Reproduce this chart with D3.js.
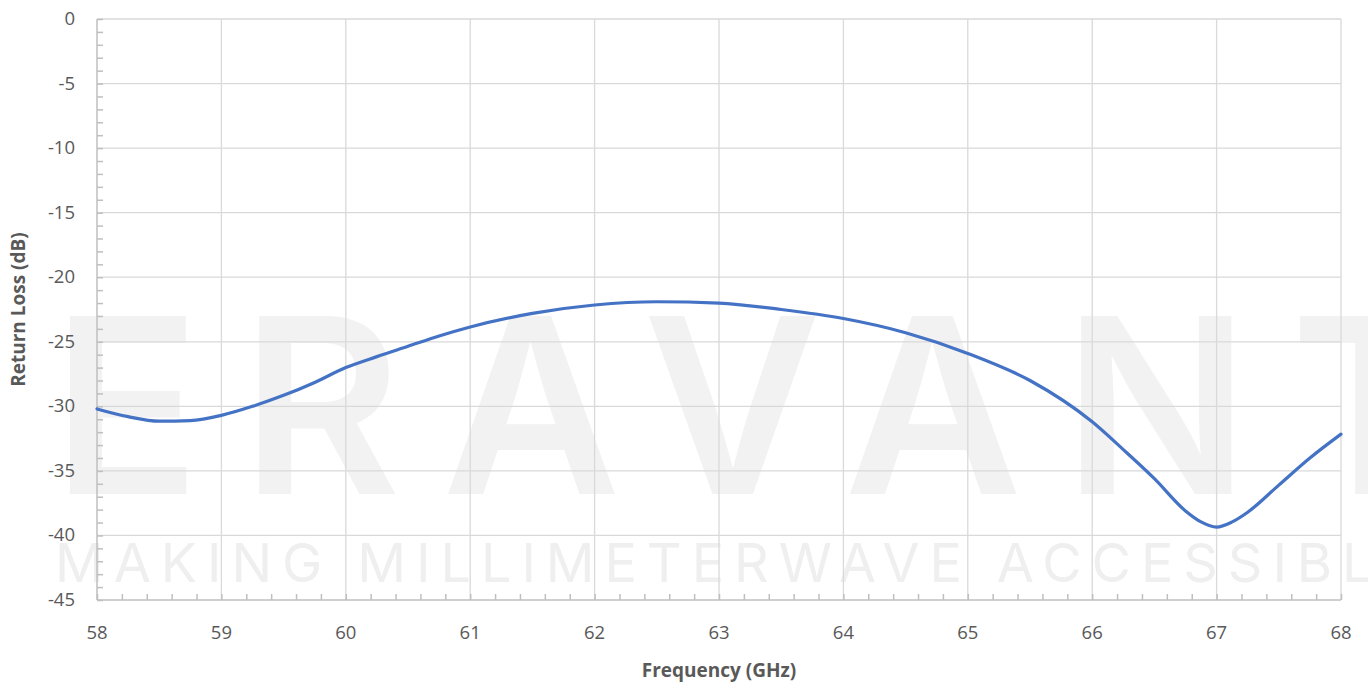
<!DOCTYPE html>
<html>
<head>
<meta charset="utf-8">
<script src="https://cdn.jsdelivr.net/npm/d3@7"></script>
<style>
  body { margin: 0; background: #fff; }
  svg { display: block; font-family: "Open Sans", "Liberation Sans", sans-serif; }
</style>
</head>
<body>
<svg id="chart" width="1368" height="686"></svg>
<script>
// datos
var freq = [58, 58.25, 58.5, 58.75, 59, 59.25, 59.5, 59.75, 60, 60.25, 60.5, 60.75, 61, 61.5, 62, 62.5, 63, 63.5, 64, 64.5, 65, 65.5, 66, 66.25, 66.5, 66.75, 66.875, 67, 67.125, 67.25, 67.5, 67.75, 68];
var returnLoss = [-30.2, -30.8, -31.15, -31.1, -30.7, -30.0, -29.15, -28.15, -27.0, -26.15, -25.35, -24.55, -23.85, -22.8, -22.15, -21.9, -22.0, -22.5, -23.2, -24.3, -25.9, -28.0, -31.2, -33.35, -35.6, -38.1, -38.95, -39.35, -38.95, -38.2, -36.1, -34.0, -32.15];
var xTicks = [58, 59, 60, 61, 62, 63, 64, 65, 66, 67, 68];
var yTicks = [0, -5, -10, -15, -20, -25, -30, -35, -40, -45];

var svg = d3.select("#chart");
var mLeft = 97, mRight = 1341, mTop = 19, mBottom = 600;

var x = d3.scaleLinear().domain([58, 68]).range([mLeft, mRight]);
var y = d3.scaleLinear().domain([0, -45]).range([mTop, mBottom]);

// marca de agua
var wm = svg.append("g").attr("fill", "#f2f2f2");
wm.append("text")
    .attr("x", 52).attr("y", 494)
    .attr("font-family", "Inter, 'Open Sans', sans-serif")
    .attr("font-size", 245)
    .attr("font-weight", 600)
    .attr("textLength", 1400)
    .attr("lengthAdjust", "spacing")
    .text("ERAVANT");
wm.append("text")
    .attr("x", 55).attr("y", 582)
    .attr("font-family", "Inter, 'Open Sans', sans-serif")
    .attr("font-size", 54)
    .attr("fill", "#efefef")
    .attr("textLength", 1360)
    .attr("lengthAdjust", "spacing")
    .text("MAKING MILLIMETERWAVE ACCESSIBLE");

// cuadricula
svg.append("g").selectAll("line")
    .data(yTicks.slice(0, -1))
    .enter().append("line")
    .attr("x1", mLeft).attr("x2", mRight)
    .attr("y1", d => y(d)).attr("y2", d => y(d))
    .attr("stroke", "#d9d9d9").attr("stroke-width", 1.3);
svg.append("g").selectAll("line")
    .data(xTicks.slice(1))
    .enter().append("line")
    .attr("x1", d => x(d)).attr("x2", d => x(d))
    .attr("y1", mTop).attr("y2", mBottom)
    .attr("stroke", "#d9d9d9").attr("stroke-width", 1.3);

// ejes con marcas menores hacia dentro
var yMinor = d3.range(0, -46, -1);
var xMinor = d3.range(58, 68.01, 0.2);

var yAxis = svg.append("g").attr("transform", "translate(" + mLeft + ",0)")
    .call(d3.axisRight(y).tickValues(yMinor).tickSize(6).tickFormat(""));
var xAxis = svg.append("g").attr("transform", "translate(0," + mBottom + ")")
    .call(d3.axisTop(x).tickValues(xMinor).tickSize(6).tickFormat(""));
[yAxis, xAxis].forEach(function(a) {
    a.selectAll("line, path").attr("stroke", "#bfbfbf").attr("stroke-width", 1.5);
});
xAxis.select(".domain").attr("d", "M" + mLeft + ",0H" + mRight);
yAxis.select(".domain").attr("d", "M0," + mTop + "V" + mBottom);

// etiquetas
svg.append("g").selectAll("text")
    .data(yTicks)
    .enter().append("text")
    .attr("x", 75).attr("y", d => y(d) + 6)
    .attr("text-anchor", "end")
    .attr("font-size", 18.5).attr("fill", "#595959")
    .text(d => d);
svg.append("g").selectAll("text")
    .data(xTicks)
    .enter().append("text")
    .attr("x", d => x(d)).attr("y", 639)
    .attr("text-anchor", "middle")
    .attr("font-size", 18.5).attr("fill", "#595959")
    .text(d => d);

svg.append("text")
    .attr("x", (mLeft + mRight) / 2).attr("y", 677)
    .attr("text-anchor", "middle")
    .attr("font-size", 19).attr("font-weight", "bold").attr("fill", "#595959")
    .text("Frequency (GHz)");
svg.append("text")
    .attr("transform", "translate(25," + ((mTop + mBottom) / 2) + ") rotate(-90)")
    .attr("text-anchor", "middle")
    .attr("font-size", 19).attr("font-weight", "bold").attr("fill", "#595959")
    .text("Return Loss (dB)");

// curva
var line = d3.line()
    .x((d, i) => x(freq[i]))
    .y(d => y(d))
    .curve(d3.curveMonotoneX);
svg.append("path")
    .datum(returnLoss)
    .attr("d", line)
    .attr("fill", "none")
    .attr("stroke", "#4472c4")
    .attr("stroke-width", 3.2)
    .attr("stroke-linecap", "round");
</script>
</body>
</html>
